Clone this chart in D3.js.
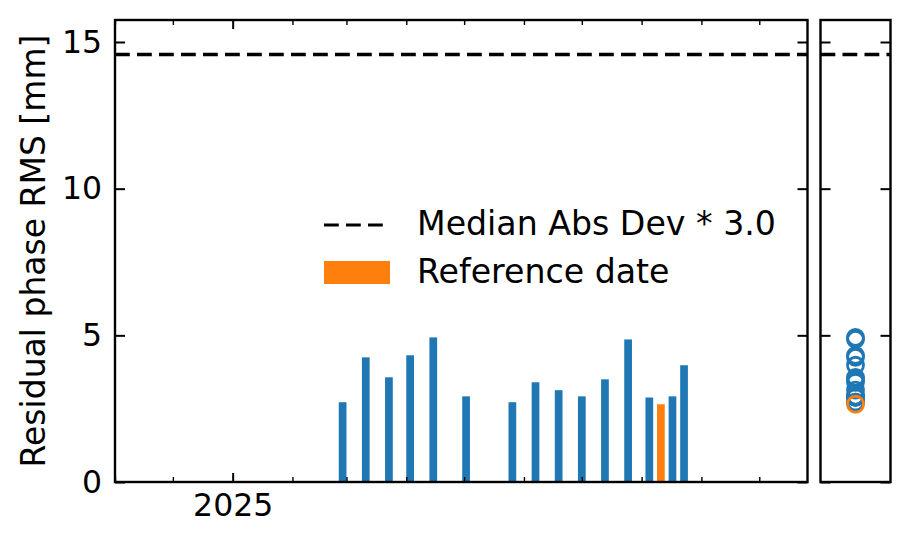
<!DOCTYPE html>
<html>
<head>
<meta charset="utf-8">
<script src="https://cdn.jsdelivr.net/npm/d3@7"></script>
<style>
	body { margin: 0; background: #fff; }
	svg { display: block; font-family: 'DejaVu Sans', sans-serif; }
</style>
</head>
<body>
<svg id="chart"></svg>
<script>
// acquisition dates and residual phase rms (mm)
const dates = [
	'2025-02-27', '2025-03-11', '2025-03-23', '2025-04-03', '2025-04-15',
	'2025-05-02', '2025-05-26', '2025-06-07', '2025-06-19', '2025-07-01',
	'2025-07-13', '2025-07-25', '2025-08-05', '2025-08-11', '2025-08-17',
	'2025-08-23'
]
const rms = [
	2.72, 4.25, 3.57, 4.32, 4.93,
	2.92, 2.72, 3.40, 3.13, 2.92,
	3.50, 4.86, 2.88, 2.65, 2.92,
	3.98
]
const refDate = '2025-08-11'
const madThreshold = 14.57
const yTicks = [0, 5, 10, 15]
const yearTicks = ['2025-01-01']
const legendLabels = ['Median Abs Dev * 3.0', 'Reference date']

const blue = '#1f77b4'
const orange = '#ff7f0e'
const parse = d3.utcParse('%Y-%m-%d')

const svgWidth = 911
const svgHeight = 545
const main = { left: 115, right: 807.5, top: 20, bottom: 482 }
const side = { left: 820.5, right: 890.5 }

const svg = d3.select('#chart').attr('width', svgWidth).attr('height', svgHeight)

const x = d3
	.scaleUtc()
	.domain([new Date(Date.UTC(2024, 10, 1)), new Date(Date.UTC(2025, 9, 26))])
	.range([main.left, main.right])

const y = d3.scaleLinear().domain([0, 15.75]).range([main.bottom, main.top])

const barDays = 4
const dayMs = 864e5

const rows = dates.map((d, i) => ({ date: parse(d), value: rms[i], ref: d === refDate }))

// bars
svg
	.append('g')
	.selectAll('rect')
	.data(rows)
	.join('rect')
	.attr('x', (d) => x(new Date(+d.date - (barDays / 2) * dayMs)))
	.attr('width', (d) => x(new Date(+d.date + (barDays / 2) * dayMs)) - x(new Date(+d.date - (barDays / 2) * dayMs)))
	.attr('y', (d) => y(d.value))
	.attr('height', (d) => y(0) - y(d.value))
	.attr('fill', (d) => (d.ref ? orange : blue))

const dash = '14.8,7.2'
const dashWidth = 3.5

svg
	.append('line')
	.attr('x1', main.left)
	.attr('x2', main.right)
	.attr('y1', y(madThreshold))
	.attr('y2', y(madThreshold))
	.attr('stroke', '#000')
	.attr('stroke-width', dashWidth)
	.attr('stroke-dasharray', dash)

// axes for the main panel, ticks pointing in
const tickFont = 31.5
const styleAxis = (g) => {
	g.select('.domain').remove()
	g.selectAll('.tick line').attr('stroke', '#000')
	g.selectAll('text').attr('font-size', tickFont).attr('fill', '#000').attr('font-family', 'DejaVu Sans')
}

svg
	.append('g')
	.attr('transform', `translate(${main.left},0)`)
	.call(d3.axisLeft(y).tickValues(yTicks).tickSizeInner(-10).tickSizeOuter(0).tickPadding(13))
	.call(styleAxis)
	.call((g) => g.selectAll('.tick line').attr('stroke-width', 2))

svg
	.append('g')
	.attr('transform', `translate(${main.right},0)`)
	.call(d3.axisRight(y).tickValues(yTicks).tickSize(-10).tickFormat(''))
	.call(styleAxis)
	.call((g) => g.selectAll('.tick line').attr('stroke-width', 2))

const majorX = yearTicks.map(parse)
const minorX = d3.utcMonth
	.range(x.domain()[0], x.domain()[1])
	.filter((d) => !majorX.some((m) => +m === +d))

svg
	.append('g')
	.attr('transform', `translate(0,${main.bottom})`)
	.call(d3.axisBottom(x).tickValues(majorX).tickSize(-9).tickPadding(11.5).tickFormat(d3.utcFormat('%Y')))
	.call(styleAxis)
	.call((g) => g.selectAll('.tick line').attr('stroke-width', 2))

svg
	.append('g')
	.attr('transform', `translate(0,${main.bottom})`)
	.call(d3.axisBottom(x).tickValues(minorX).tickSize(-5).tickFormat(''))
	.call(styleAxis)
	.call((g) => g.selectAll('.tick line').attr('stroke-width', 1.4))

svg
	.append('g')
	.attr('transform', `translate(0,${main.top})`)
	.call(d3.axisTop(x).tickValues(majorX).tickSize(-9).tickFormat(''))
	.call(styleAxis)
	.call((g) => g.selectAll('.tick line').attr('stroke-width', 2))

svg
	.append('g')
	.attr('transform', `translate(0,${main.top})`)
	.call(d3.axisTop(x).tickValues(minorX).tickSize(-5).tickFormat(''))
	.call(styleAxis)
	.call((g) => g.selectAll('.tick line').attr('stroke-width', 1.4))

svg
	.append('rect')
	.attr('x', main.left)
	.attr('y', main.top)
	.attr('width', main.right - main.left)
	.attr('height', main.bottom - main.top)
	.attr('fill', 'none')
	.attr('stroke', '#000')
	.attr('stroke-width', 2.4)

svg
	.append('text')
	.attr('transform', `translate(45,${(main.top + main.bottom) / 2}) rotate(-90)`)
	.attr('text-anchor', 'middle')
	.attr('font-size', 33)
	.text('Residual phase RMS [mm]')

// legend
const legend = svg.append('g').attr('transform', 'translate(324,0)')
legend
	.append('line')
	.attr('x1', 0)
	.attr('x2', 66)
	.attr('y1', 225)
	.attr('y2', 225)
	.attr('stroke', '#000')
	.attr('stroke-width', 3)
	.attr('stroke-dasharray', dash)
legend
	.append('rect')
	.attr('x', 0)
	.attr('y', 261)
	.attr('width', 66)
	.attr('height', 23)
	.attr('fill', orange)
legend
	.selectAll('text')
	.data(legendLabels)
	.join('text')
	.attr('x', 93)
	.attr('y', (d, i) => 235 + i * 48)
	.attr('font-size', 33.2)
	.text((d) => d)

// side panel: distribution of values
const sx = (side.left + side.right) / 2

svg
	.append('line')
	.attr('x1', side.left)
	.attr('x2', side.right)
	.attr('y1', y(madThreshold))
	.attr('y2', y(madThreshold))
	.attr('stroke', '#000')
	.attr('stroke-width', dashWidth)
	.attr('stroke-dasharray', dash)

svg
	.append('g')
	.selectAll('circle')
	.data([...rows].sort((a, b) => d3.ascending(a.ref, b.ref)))
	.join('circle')
	.attr('cx', sx)
	.attr('cy', (d) => y(d.value))
	.attr('r', 8)
	.attr('fill', 'none')
	.attr('stroke', (d) => (d.ref ? orange : blue))
	.attr('stroke-width', 2.8)

svg
	.append('g')
	.attr('transform', `translate(${side.left},0)`)
	.call(d3.axisLeft(y).tickValues(yTicks).tickSize(-10).tickFormat(''))
	.call(styleAxis)
	.call((g) => g.selectAll('.tick line').attr('stroke-width', 2))

svg
	.append('g')
	.attr('transform', `translate(${side.right},0)`)
	.call(d3.axisRight(y).tickValues(yTicks).tickSize(-10).tickFormat(''))
	.call(styleAxis)
	.call((g) => g.selectAll('.tick line').attr('stroke-width', 2))

svg
	.append('rect')
	.attr('x', side.left)
	.attr('y', main.top)
	.attr('width', side.right - side.left)
	.attr('height', main.bottom - main.top)
	.attr('fill', 'none')
	.attr('stroke', '#000')
	.attr('stroke-width', 2.4)
</script>
</body>
</html>
